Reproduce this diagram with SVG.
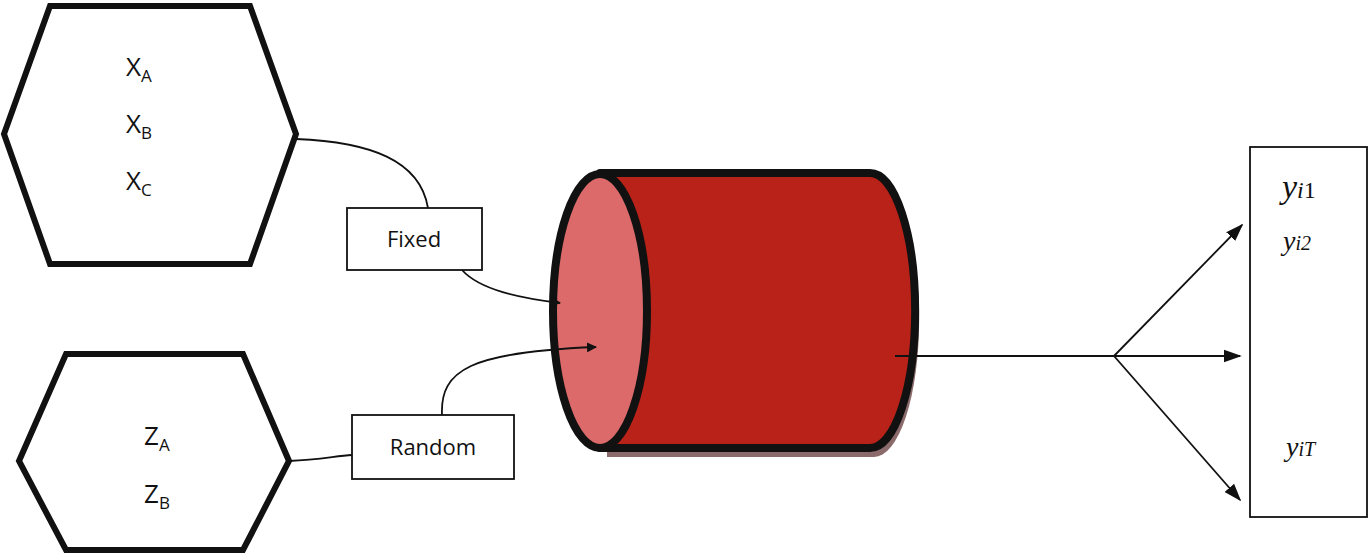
<svg xmlns="http://www.w3.org/2000/svg" width="1371" height="554" viewBox="0 0 1371 554">
<style>
.hex{fill:#fff;stroke:#111;stroke-width:6}
.box{fill:#fff;stroke:#111;stroke-width:1.8}
.t{font-family:"Open Sans","DejaVu Sans",sans-serif;font-size:26px;fill:#111}
.s{font-size:17px}
.y{font-family:"Liberation Serif",serif;font-style:italic;fill:#111}
.c{fill:none;stroke:#111;stroke-width:1.8}
</style>
<defs><marker id="a" viewBox="0 0 10 10" refX="9" refY="5" markerWidth="10" markerHeight="10" markerUnits="userSpaceOnUse" orient="auto"><path d="M0,0L10,5L0,10z" fill="#111"/></marker>
<marker id="b" viewBox="0 0 10 10" refX="9" refY="5" markerWidth="18" markerHeight="18" markerUnits="userSpaceOnUse" orient="auto"><path d="M0,1.5L10,5L0,8.5z" fill="#111"/></marker></defs>
<g id="hexX"><polygon class="hex" points="4,134 50,6 250,6 296,134 250,264 50,264"/>
<text class="t" x="126" y="76">X<tspan class="s" dy="6">A</tspan></text>
<text class="t" x="126" y="133">X<tspan class="s" dy="6">B</tspan></text>
<text class="t" x="126" y="190">X<tspan class="s" dy="6">C</tspan></text></g>
<g id="hexZ"><polygon class="hex" points="19,461 66,354 243,354 289,461 243,550 66,550"/>
<text class="t" x="144" y="445">Z<tspan class="s" dy="6">A</tspan></text>
<text class="t" x="144" y="503">Z<tspan class="s" dy="6">B</tspan></text></g>
<g id="fixed"><rect class="box" x="347" y="208" width="135" height="62"/><text class="t" x="414" y="247" font-size="22" text-anchor="middle" style="font-size:22px">Fixed</text></g>
<g id="random"><rect class="box" x="352" y="415" width="162" height="64"/><text class="t" x="433" y="455" text-anchor="middle" style="font-size:22px">Random</text></g>
<g id="cylinder">
<path d="M603,176 L870,176 A45,137 0 0 1 870,451 L603,451 z" fill="#8a6a6a" transform="translate(4,6)"/>
<path d="M600,173 L870,173 A45,137 0 0 1 870,448 L600,448 z" fill="#b82218" stroke="#111" stroke-width="8" stroke-linejoin="round"/>
<ellipse cx="600" cy="311" rx="47" ry="137" fill="#dc6a6a" stroke="#111" stroke-width="8"/></g>
<g id="output"><rect class="box" x="1250" y="147" width="117" height="370"/>
<text class="y" x="1282" y="198" font-size="34">y<tspan font-size="24">i</tspan><tspan font-size="24" font-style="normal">1</tspan></text>
<text class="y" x="1283" y="250" font-size="28">y<tspan font-size="20">i2</tspan></text>
<text class="y" x="1286" y="456" font-size="28">y<tspan font-size="20">iT</tspan></text></g>
<g id="connectors">
<path class="c" d="M296,139 C370,142 420,160 428,208"/>
<path class="c" d="M462,270 C480,290 520,298 560,303" marker-end="url(#a)"/>
<path class="c" d="M442,415 C440,370 470,352 596,347" marker-end="url(#a)"/>
<path class="c" d="M289,461 C320,460 335,456 352,455"/>
<path class="c" stroke-width="2.2" d="M895,356 L1114,356"/>
<path class="c" stroke-width="2.2" d="M1114,356 L1242,225" marker-end="url(#b)"/>
<path class="c" stroke-width="2.2" d="M1114,356 L1240,356" marker-end="url(#b)"/>
<path class="c" stroke-width="2.2" d="M1114,356 L1240,500" marker-end="url(#b)"/>
</g>
</svg>
